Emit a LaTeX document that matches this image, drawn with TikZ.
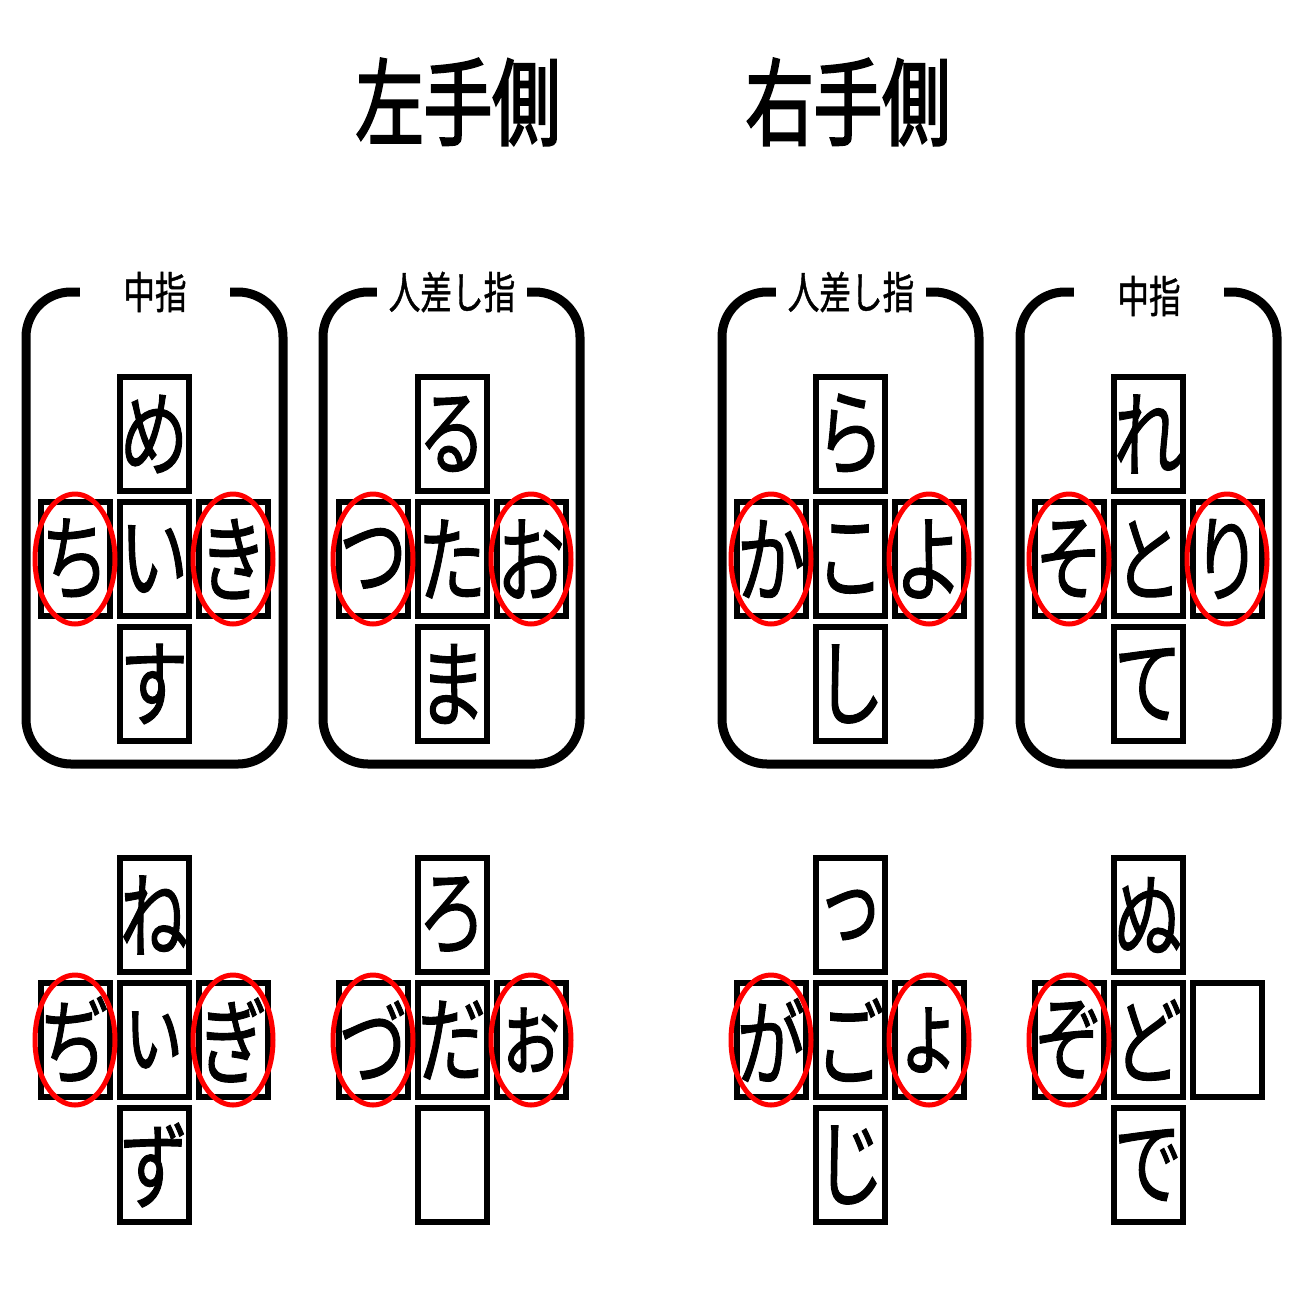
\documentclass[tikz,border=0pt]{standalone}
\usepackage{fontspec}
\newfontfamily\jpfont[FakeStretch=0.72,FakeBold=1]{Noto Sans CJK JP}
\newfontfamily\jptitle[FakeStretch=0.72,FakeBold=2.2]{Noto Sans CJK JP}
\usetikzlibrary{shapes.geometric}

\begin{document}
\begin{tikzpicture}[
    x=0.1mm, y=-0.1mm,
    every node/.style={font=\jpfont},
    key/.style={draw, line width=0.6mm, minimum width=6.9mm, minimum height=11.4mm, inner sep=0pt, font=\jpfont\fontsize{27pt}{27pt}\selectfont},
    ring/.style={draw=red, ellipse, line width=0.5mm, minimum width=8mm, minimum height=13mm, inner sep=0pt},
    finger/.style={draw, line width=0.9mm, rounded corners=4.5mm},
    fingername/.style={fill=white, minimum width=15mm, inner sep=0pt, font=\jpfont\fontsize{12.5pt}{12.5pt}\selectfont},
    side/.style={font=\jptitle\fontsize{27pt}{27pt}\selectfont}
  ]
  \useasboundingbox[fill=white] (0,0) rectangle (1300,1300);

    % Titles
    \node[side] (lefthand) at (458,102) {左手側};
    \node[side] (righthand) at (848,102) {右手側};

    %------------------ Finger frames ------------------%
    \draw[finger] (26,292) rectangle (283,764);
    \node[fingername] (lmiddle) at (155,292) {中指};
    \draw[finger] (323,292) rectangle (580,764);
    \node[fingername] (lindex) at (452,292) {人差し指};
    \draw[finger] (722,292) rectangle (979,764);
    \node[fingername] (rindex) at (851,292) {人差し指};
    \draw[finger] (1020,292) rectangle (1277,764);
    \node[fingername] (rmiddle) at (1149,296) {中指};

    %------------------ Top row of keys -----------------%
    \begin{scope}[shift={(154,559)}]
      \node[key] (n) at (0,-125) {め};
      \node[key] (w) at (-79,0) {ち};
      \node[key] (c) at (0,0) {い};
      \node[key] (e) at (79,0) {き};
      \node[key] (s) at (0,125) {す};
      \node[ring] (wr) at (w) {};
      \node[ring] (er) at (e) {};
    \end{scope}

    \begin{scope}[shift={(452,559)}]
      \node[key] (n) at (0,-125) {る};
      \node[key] (w) at (-79,0) {つ};
      \node[key] (c) at (0,0) {た};
      \node[key] (e) at (79,0) {お};
      \node[key] (s) at (0,125) {ま};
      \node[ring] (wr) at (w) {};
      \node[ring] (er) at (e) {};
    \end{scope}

    \begin{scope}[shift={(850,559)}]
      \node[key] (n) at (0,-125) {ら};
      \node[key] (w) at (-79,0) {か};
      \node[key] (c) at (0,0) {こ};
      \node[key] (e) at (79,0) {よ};
      \node[key] (s) at (0,125) {し};
      \node[ring] (wr) at (w) {};
      \node[ring] (er) at (e) {};
    \end{scope}

    \begin{scope}[shift={(1148,559)}]
      \node[key] (n) at (0,-125) {れ};
      \node[key] (w) at (-79,0) {そ};
      \node[key] (c) at (0,0) {と};
      \node[key] (e) at (79,0) {り};
      \node[key] (s) at (0,125) {て};
      \node[ring] (wr) at (w) {};
      \node[ring] (er) at (e) {};
    \end{scope}

    %------------------ Bottom row of keys --------------%
    \begin{scope}[shift={(154,1040)}]
      \node[key] (n) at (0,-125) {ね};
      \node[key] (w) at (-79,0) {ぢ};
      \node[key] (c) at (0,0) {ぃ};
      \node[key] (e) at (79,0) {ぎ};
      \node[key] (s) at (0,125) {ず};
      \node[ring] (wr) at (w) {};
      \node[ring] (er) at (e) {};
    \end{scope}

    \begin{scope}[shift={(452,1040)}]
      \node[key] (n) at (0,-125) {ろ};
      \node[key] (w) at (-79,0) {づ};
      \node[key] (c) at (0,0) {だ};
      \node[key] (e) at (79,0) {ぉ};
      \node[key] (s) at (0,125) {};
      \node[ring] (wr) at (w) {};
      \node[ring] (er) at (e) {};
    \end{scope}

    \begin{scope}[shift={(850,1040)}]
      \node[key] (n) at (0,-125) {っ};
      \node[key] (w) at (-79,0) {が};
      \node[key] (c) at (0,0) {ご};
      \node[key] (e) at (79,0) {ょ};
      \node[key] (s) at (0,125) {じ};
      \node[ring] (wr) at (w) {};
      \node[ring] (er) at (e) {};
    \end{scope}

    \begin{scope}[shift={(1148,1040)}]
      \node[key] (n) at (0,-125) {ぬ};
      \node[key] (w) at (-79,0) {ぞ};
      \node[key] (c) at (0,0) {ど};
      \node[key] (e) at (79,0) {};
      \node[key] (s) at (0,125) {で};
      \node[ring] (wr) at (w) {};
    \end{scope}

  \end{tikzpicture}
\end{document}
